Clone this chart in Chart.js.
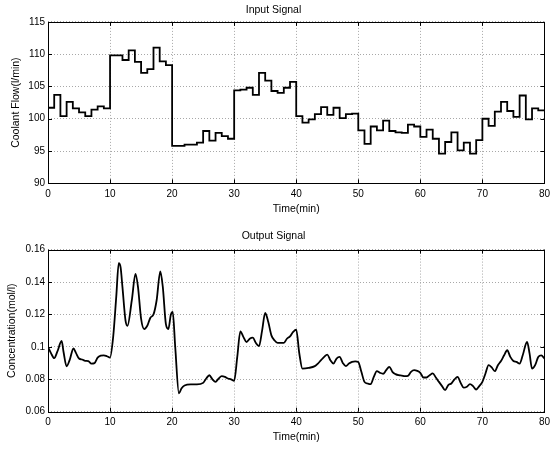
<!DOCTYPE html>
<html>
<head>
<meta charset="utf-8">
<script src="https://cdn.jsdelivr.net/npm/chart.js@4"></script>
<style>
  body { margin: 0; background: #fff; }
  .plot { position: absolute; left: 0; }
</style>
</head>
<body>
<canvas id="chartInput" class="plot" width="555" height="228" style="top:0"></canvas>
<canvas id="chartOutput" class="plot" width="555" height="226" style="top:228px"></canvas>
<script>
/* Input signal: start time of each 1-min step and its flow */
const inTime = [0,1,2,3,4,5,6,7,8,9,10,11,12,13,14,15,16,17,18,19,
  20,21,22,23,24,25,26,27,28,29,30,31,32,33,34,35,36,37,38,39,
  40,41,42,43,44,45,46,47,48,49,50,51,52,53,54,55,56,57,58,59,
  60,61,62,63,64,65,66,67,68,69,70,71,72,73,74,75,76,77,78,79,80];
const inFlow = [101.7,103.7,100.4,102.6,101.6,101.0,100.4,101.4,101.9,101.6,
  109.8,109.8,109.1,110.6,108.8,107.1,107.7,111.0,108.9,108.3,
  95.8,95.8,96.0,96.0,96.3,98.1,96.6,97.8,97.3,96.9,
  104.4,104.5,104.8,103.7,107.1,105.9,104.3,104.0,104.8,105.7,
  100.4,99.4,99.9,100.7,101.8,100.6,101.7,100.1,100.7,100.8,
  98.2,96.1,98.8,98.2,99.7,98.1,97.9,97.8,99.1,98.8,
  97.2,98.3,96.9,94.6,96.4,97.9,95.1,96.3,94.6,96.7,
  100.0,98.9,101.1,102.6,101.2,100.3,103.6,99.9,101.6,101.3,101.3];

/* Output signal samples */
const outTime = [0,0.5,1,1.5,2.2,2.5,3,3.5,4.1,4.5,5,5.5,6,6.5,7,7.5,8,8.5,9,9.5,
  10,10.5,11,11.4,11.7,12,12.5,12.8,13.5,14.1,14.5,15,15.5,16,16.5,17,17.5,18.1,18.5,19,
  19.4,19.8,20.1,20.5,21.1,21.5,22,23,24,25,25.5,26,26.5,27,27.5,28,28.5,29,29.5,30,
  30.5,31,31.5,32,32.5,33,33.5,34,34.5,35,35.5,36,36.5,37,38,38.5,39,39.5,40,40.5,
  41,42,43,43.5,44,44.5,45,45.5,46,46.5,47,47.5,48,48.5,49,49.5,50,50.5,51,51.5,
  52,52.5,53,53.5,54,54.5,55,55.5,56,56.5,57,57.5,58,58.5,59,59.5,60,60.5,61,61.5,
  62,62.5,63,63.5,64,64.5,65,65.5,66,66.5,67,67.5,68,68.5,69,69.5,70,70.5,71,71.5,
  72,72.5,73,73.5,74,74.5,75,75.5,76,76.5,77.2,77.6,78,78.5,79,79.5,80];
const outConc = [0.100,0.096,0.093,0.097,0.1036,0.097,0.088,0.092,0.099,0.0963,0.0928,0.0922,0.0914,0.0912,0.0897,0.0900,0.0934,0.0946,0.0948,0.0942,
  0.0934,0.106,0.131,0.1516,0.149,0.1368,0.116,0.113,0.1286,0.145,0.137,0.1174,0.111,0.113,0.118,0.120,0.1286,0.1465,0.137,0.114,
  0.111,0.120,0.1215,0.100,0.0713,0.0743,0.0762,0.0768,0.0768,0.0778,0.0805,0.0825,0.0799,0.0784,0.0805,0.0819,0.0815,0.0805,0.0800,0.0791,
  0.0938,0.1096,0.106,0.103,0.105,0.1057,0.1024,0.1004,0.110,0.1209,0.1153,0.1071,0.104,0.1024,0.1024,0.105,0.1065,0.1092,0.1106,0.0959,
  0.0866,0.0870,0.0881,0.0897,0.0918,0.0938,0.0952,0.0918,0.0897,0.0928,0.0938,0.0901,0.0881,0.0897,0.0907,0.0911,0.0907,0.0846,0.0784,0.0774,
  0.0770,0.0815,0.0850,0.0840,0.0834,0.0856,0.0877,0.0846,0.0832,0.0825,0.0823,0.0819,0.0821,0.0846,0.0856,0.0852,0.0840,0.0811,0.0811,0.0825,
  0.0836,0.0811,0.0784,0.0758,0.0733,0.0764,0.0774,0.0799,0.0815,0.0778,0.0748,0.0754,0.0770,0.0758,0.0737,0.0758,0.0784,0.0836,0.0887,0.0873,
  0.0850,0.0887,0.0913,0.0948,0.0979,0.0938,0.0913,0.0907,0.0897,0.0948,0.103,0.096,0.0866,0.0887,0.0938,0.0948,0.0928];

const timeTicks = [0, 80, 10];
const flowTicks = [90, 115, 5];
const concTicks = [0.06, 0.16, 0.02];

const FONT = 'Arial, "Liberation Sans", sans-serif';

/* MATLAB-style box with inward tick marks */
const boxPlugin = {
  id: 'box',
  afterDraw(chart) {
    const { ctx, chartArea: a, scales } = chart;
    ctx.save();
    ctx.strokeStyle = '#000';
    ctx.lineWidth = 1;
    ctx.beginPath();
    scales.x.ticks.forEach(t => {
      const px = Math.round(scales.x.getPixelForValue(t.value)) + 0.5;
      ctx.moveTo(px, a.bottom); ctx.lineTo(px, a.bottom - 4);
      ctx.moveTo(px, a.top); ctx.lineTo(px, a.top + 4);
    });
    scales.y.ticks.forEach(t => {
      const py = Math.round(scales.y.getPixelForValue(t.value)) + 0.5;
      ctx.moveTo(a.left, py); ctx.lineTo(a.left + 4, py);
      ctx.moveTo(a.right, py); ctx.lineTo(a.right - 4, py);
    });
    ctx.stroke();
    ctx.strokeRect(Math.round(a.left) + 0.5, Math.round(a.top) + 0.5,
      Math.round(a.right - a.left), Math.round(a.bottom - a.top));
    ctx.restore();
  }
};

function makeChart(id, opts) {
  return new Chart(document.getElementById(id), {
    type: 'line',
    data: { datasets: [{
      data: opts.xs.map((x, i) => ({ x, y: opts.ys[i] })),
      borderColor: '#000', borderWidth: 1.8, pointRadius: 0,
      stepped: opts.stepped || false,
      tension: opts.stepped ? 0 : 0.4,
      cubicInterpolationMode: opts.stepped ? 'default' : 'monotone'
    }]},
    options: {
      responsive: false, animation: false, devicePixelRatio: 1,
      layout: { padding: { left: 0, right: 8, top: 0, bottom: 0 } },
      plugins: {
        legend: { display: false }, tooltip: { enabled: false },
        title: { display: true, text: opts.title, color: '#000',
          font: { family: FONT, size: 10.5, weight: 'normal' },
          padding: opts.titlePad }
      },
      scales: {
        x: {
          type: 'linear', min: timeTicks[0], max: timeTicks[1],
          ticks: { stepSize: timeTicks[2], color: '#000', padding: 5,
            font: { family: FONT, size: 10 } },
          grid: { color: '#a8a8a8', drawTicks: false },
          border: { display: false, dash: [1, 2] },
          title: { display: true, text: 'Time(min)', color: '#000',
            font: { family: FONT, size: 10.5 }, padding: { top: 0, bottom: opts.xTitlePad } },
          afterFit: s => { s.height = opts.xHeight; }
        },
        y: {
          min: opts.yTicks[0], max: opts.yTicks[1],
          ticks: { stepSize: opts.yTicks[2], color: '#000', padding: 3,
            font: { family: FONT, size: 10 },
            callback: v => String(+v.toFixed(2)) },
          grid: { color: '#a8a8a8', drawTicks: false },
          border: { display: false, dash: [1, 2] },
          title: { display: true, text: opts.yTitle, color: '#000',
            font: { family: FONT, size: 10.5 }, padding: { top: opts.yTitlePad, bottom: 0 } },
          afterFit: s => { s.width = 48; }
        }
      }
    },
    plugins: [boxPlugin]
  });
}

makeChart('chartInput', {
  xs: inTime, ys: inFlow, stepped: 'before', title: 'Input Signal',
  titlePad: { top: 4, bottom: 5.3 }, xHeight: 44.7, xTitlePad: 13,
  yTicks: flowTicks, yTitle: 'Coolant Flow(l/min)', yTitlePad: 10
});
makeChart('chartOutput', {
  xs: outTime, ys: outConc, title: 'Output Signal',
  titlePad: { top: 2, bottom: 7 }, xHeight: 42.3, xTitlePad: 11,
  yTicks: concTicks, yTitle: 'Concentration(mol/l)', yTitlePad: 6
});
</script>
</body>
</html>
